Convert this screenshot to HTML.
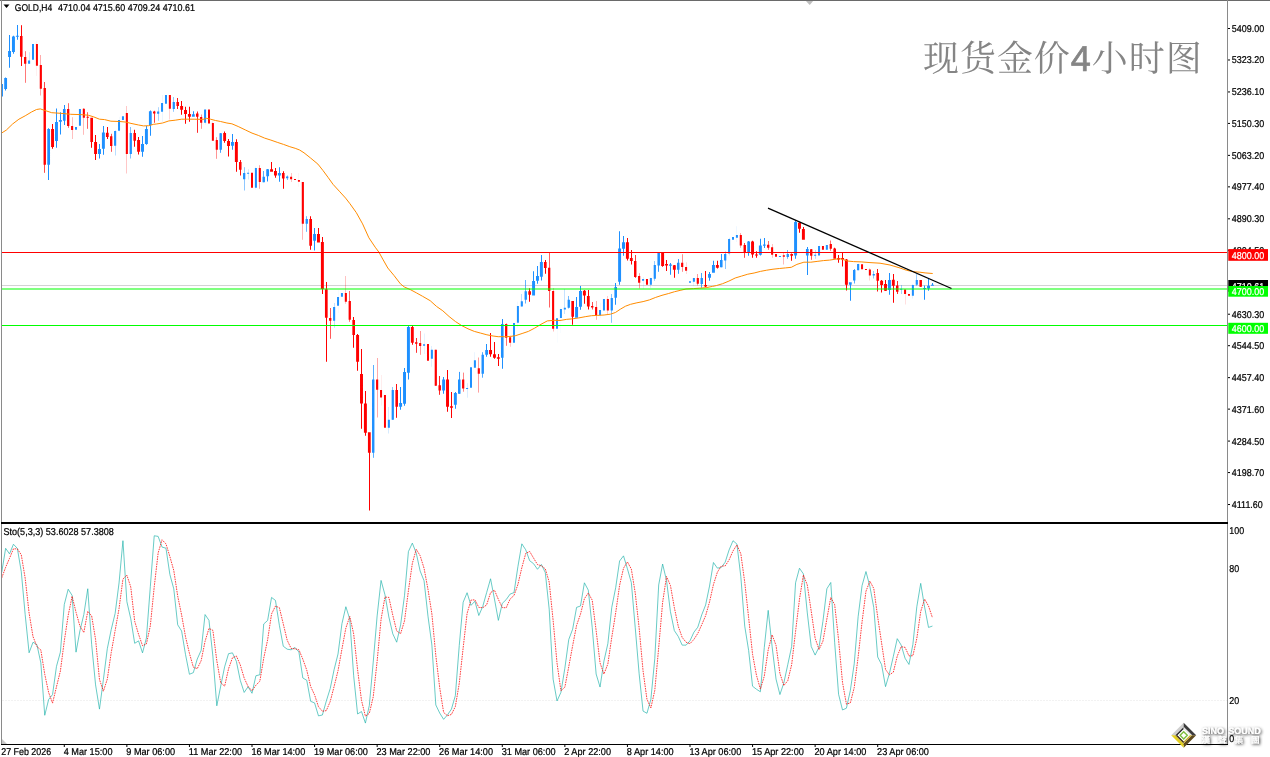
<!DOCTYPE html><html><head><meta charset="utf-8"><title>GOLD,H4</title><style>
html,body{margin:0;padding:0;background:#fff;width:1270px;height:757px;overflow:hidden}
svg{display:block}
text{text-rendering:geometricPrecision;font-family:"Liberation Sans",Arial,sans-serif;font-size:9.9px;fill:#000;stroke:#000;stroke-width:0.22px}
.cn{font-family:"Liberation Serif","Noto Serif CJK SC",serif;font-size:36px;fill:#858585;stroke:none}
</style></head><body>
<svg width="1270" height="757" viewBox="0 0 1270 757">
<rect x="0" y="0" width="1270" height="757" fill="#fff"/>
<defs><clipPath id="cm"><rect x="2" y="1" width="1225" height="521"/></clipPath><clipPath id="cs"><rect x="2" y="524" width="1225" height="220"/></clipPath></defs>
<text class="cn" x="923" y="70.8" style="letter-spacing:0.95px">现货金价<tspan style="font-family:'Liberation Sans',sans-serif;stroke:#858585;stroke-width:0.7px">4</tspan>小时图</text>
<g clip-path="url(#cm)">
<rect x="1" y="285" width="1226" height="1" fill="#D3D3D3"/>
<rect x="1" y="82" width="1" height="17.5" fill="#1E90FF" fill-opacity="0.79"/><rect x="21" y="25.2" width="1" height="40.8" fill="#FF0000" fill-opacity="0.96"/><rect x="25" y="51.2" width="1" height="31.6" fill="#FF0000" fill-opacity="0.53"/><rect x="29" y="52.2" width="1" height="11.5" fill="#1E90FF" fill-opacity="0.2"/><rect x="36" y="41.2" width="1" height="34.8" fill="#FF0000" fill-opacity="0.06"/><rect x="40" y="55" width="1" height="40.5" fill="#FF0000" fill-opacity="0.33"/><rect x="44" y="82" width="1" height="90.8" fill="#FF0000" fill-opacity="0.71"/><rect x="68" y="103.2" width="1" height="24.6" fill="#FF0000" fill-opacity="0.6"/><rect x="72" y="117.2" width="1" height="21.8" fill="#FF0000" fill-opacity="0.25"/><rect x="76" y="127" width="1" height="2.8" fill="#1E90FF" fill-opacity="0.02"/><rect x="79" y="108.2" width="1" height="17.6" fill="#1E90FF" fill-opacity="0.03"/><rect x="83" y="108" width="1" height="26.8" fill="#FF0000" fill-opacity="0.27"/><rect x="87" y="112.2" width="1" height="16.6" fill="#FF0000" fill-opacity="0.63"/><rect x="111" y="133.8" width="1" height="18" fill="#FF0000" fill-opacity="0.68"/><rect x="115" y="130.5" width="1" height="25" fill="#1E90FF" fill-opacity="0.31"/><rect x="119" y="116.8" width="1" height="15" fill="#1E90FF" fill-opacity="0.05"/><rect x="126" y="106" width="1" height="67.5" fill="#FF0000" fill-opacity="0.22"/><rect x="130" y="127" width="1" height="31.5" fill="#1E90FF" fill-opacity="0.56"/><rect x="154" y="110.8" width="1" height="12" fill="#FF0000" fill-opacity="0.76"/><rect x="158" y="107.2" width="1" height="13.6" fill="#1E90FF" fill-opacity="0.37"/><rect x="162" y="95" width="1" height="27" fill="#1E90FF" fill-opacity="0.09"/><rect x="169" y="95" width="1" height="24.5" fill="#FF0000" fill-opacity="0.16"/><rect x="173" y="97" width="1" height="14.8" fill="#1E90FF" fill-opacity="0.49"/><rect x="177" y="98" width="1" height="11" fill="#FF0000" fill-opacity="0.91"/><rect x="197" y="111.5" width="1" height="21.3" fill="#FF0000" fill-opacity="0.84"/><rect x="201" y="114.5" width="1" height="14.3" fill="#FF0000" fill-opacity="0.43"/><rect x="205" y="109.2" width="1" height="15.3" fill="#1E90FF" fill-opacity="0.13"/><rect x="212" y="121.5" width="1" height="19.3" fill="#FF0000" fill-opacity="0.12"/><rect x="216" y="137.2" width="1" height="21.6" fill="#FF0000" fill-opacity="0.42"/><rect x="220" y="133" width="1" height="19.8" fill="#1E90FF" fill-opacity="0.83"/><rect x="240" y="160" width="1" height="15.5" fill="#FF0000" fill-opacity="0.93"/><rect x="244" y="167.2" width="1" height="23.3" fill="#1E90FF" fill-opacity="0.5"/><rect x="248" y="169.2" width="1" height="10.3" fill="#1E90FF" fill-opacity="0.18"/><rect x="255" y="166.5" width="1" height="23" fill="#1E90FF" fill-opacity="0.08"/><rect x="259" y="165.2" width="1" height="23.6" fill="#FF0000" fill-opacity="0.36"/><rect x="263" y="171" width="1" height="11.2" fill="#1E90FF" fill-opacity="0.74"/><rect x="287" y="175.5" width="1" height="4.5" fill="#1E90FF" fill-opacity="0.58"/><rect x="291" y="173" width="1" height="9" fill="#FF0000" fill-opacity="0.23"/><rect x="298" y="173" width="1" height="13.8" fill="#FF0000" fill-opacity="0.04"/><rect x="302" y="182" width="1" height="57.8" fill="#FF0000" fill-opacity="0.29"/><rect x="306" y="216.2" width="1" height="15.6" fill="#1E90FF" fill-opacity="0.66"/><rect x="330" y="308" width="1" height="30.8" fill="#FF0000" fill-opacity="0.65"/><rect x="334" y="303" width="1" height="24.8" fill="#1E90FF" fill-opacity="0.28"/><rect x="338" y="290" width="1" height="23" fill="#1E90FF" fill-opacity="0.04"/><rect x="345" y="276" width="1" height="27.8" fill="#FF0000" fill-opacity="0.24"/><rect x="349" y="291" width="1" height="30.8" fill="#FF0000" fill-opacity="0.59"/><rect x="373" y="365" width="1" height="92.8" fill="#1E90FF" fill-opacity="0.73"/><rect x="377" y="358" width="1" height="59.5" fill="#FF0000" fill-opacity="0.34"/><rect x="381" y="375" width="1" height="30.5" fill="#FF0000" fill-opacity="0.07"/><rect x="388" y="407" width="1" height="26.5" fill="#1E90FF" fill-opacity="0.18"/><rect x="392" y="387" width="1" height="32.8" fill="#1E90FF" fill-opacity="0.52"/><rect x="396" y="384" width="1" height="33.8" fill="#FF0000" fill-opacity="0.94"/><rect x="416" y="338" width="1" height="14.8" fill="#FF0000" fill-opacity="0.81"/><rect x="420" y="331" width="1" height="23.8" fill="#FF0000" fill-opacity="0.41"/><rect x="424" y="333.5" width="1" height="20.5" fill="#1E90FF" fill-opacity="0.11"/><rect x="431" y="346" width="1" height="20.8" fill="#1E90FF" fill-opacity="0.14"/><rect x="435" y="349.8" width="1" height="36" fill="#FF0000" fill-opacity="0.45"/><rect x="439" y="376" width="1" height="18.8" fill="#FF0000" fill-opacity="0.86"/><rect x="459" y="371.9" width="1" height="21.8" fill="#1E90FF" fill-opacity="0.9"/><rect x="463" y="372.6" width="1" height="19.1" fill="#FF0000" fill-opacity="0.48"/><rect x="467" y="383.2" width="1" height="14.5" fill="#1E90FF" fill-opacity="0.16"/><rect x="474" y="352.2" width="1" height="15.6" fill="#1E90FF" fill-opacity="0.09"/><rect x="478" y="357.5" width="1" height="35.1" fill="#FF0000" fill-opacity="0.38"/><rect x="482" y="352.2" width="1" height="25.5" fill="#1E90FF" fill-opacity="0.77"/><rect x="506" y="323.5" width="1" height="22.3" fill="#FF0000" fill-opacity="0.55"/><rect x="510" y="335.5" width="1" height="11.3" fill="#FF0000" fill-opacity="0.21"/><rect x="517" y="301.5" width="1" height="26.3" fill="#1E90FF" fill-opacity="0.06"/><rect x="521" y="294" width="1" height="12.5" fill="#1E90FF" fill-opacity="0.32"/><rect x="525" y="280" width="1" height="23.5" fill="#1E90FF" fill-opacity="0.69"/><rect x="549" y="253" width="1" height="54.5" fill="#FF0000" fill-opacity="0.62"/><rect x="553" y="288" width="1" height="43.5" fill="#FF0000" fill-opacity="0.26"/><rect x="557" y="318" width="1" height="24.5" fill="#1E90FF" fill-opacity="0.03"/><rect x="560" y="307" width="1" height="26" fill="#1E90FF" fill-opacity="0.03"/><rect x="564" y="289" width="1" height="25" fill="#1E90FF" fill-opacity="0.26"/><rect x="568" y="296" width="1" height="12.5" fill="#1E90FF" fill-opacity="0.62"/><rect x="592" y="302" width="1" height="7.5" fill="#FF0000" fill-opacity="0.7"/><rect x="596" y="301" width="1" height="18.8" fill="#FF0000" fill-opacity="0.32"/><rect x="600" y="303" width="1" height="15" fill="#1E90FF" fill-opacity="0.06"/><rect x="607" y="296" width="1" height="18" fill="#FF0000" fill-opacity="0.2"/><rect x="611" y="294" width="1" height="28.8" fill="#1E90FF" fill-opacity="0.54"/><rect x="635" y="255" width="1" height="22.8" fill="#FF0000" fill-opacity="0.78"/><rect x="639" y="273.2" width="1" height="15.3" fill="#FF0000" fill-opacity="0.38"/><rect x="643" y="277" width="1" height="12" fill="#1E90FF" fill-opacity="0.1"/><rect x="650" y="277.8" width="1" height="10" fill="#1E90FF" fill-opacity="0.15"/><rect x="654" y="261" width="1" height="19.8" fill="#1E90FF" fill-opacity="0.47"/><rect x="658" y="252.8" width="1" height="19" fill="#1E90FF" fill-opacity="0.89"/><rect x="678" y="259" width="1" height="14.8" fill="#1E90FF" fill-opacity="0.86"/><rect x="682" y="254.2" width="1" height="17.6" fill="#FF0000" fill-opacity="0.45"/><rect x="686" y="262.2" width="1" height="11.8" fill="#FF0000" fill-opacity="0.14"/><rect x="693" y="277.8" width="1" height="8.4" fill="#1E90FF" fill-opacity="0.11"/><rect x="697" y="274" width="1" height="11.5" fill="#FF0000" fill-opacity="0.4"/><rect x="701" y="273" width="1" height="14.8" fill="#1E90FF" fill-opacity="0.81"/><rect x="721" y="254" width="1" height="13.2" fill="#1E90FF" fill-opacity="0.95"/><rect x="725" y="251.5" width="1" height="17.5" fill="#1E90FF" fill-opacity="0.52"/><rect x="729" y="237.8" width="1" height="17.7" fill="#1E90FF" fill-opacity="0.19"/><rect x="736" y="226.2" width="1" height="15.8" fill="#1E90FF" fill-opacity="0.07"/><rect x="740" y="233" width="1" height="14.8" fill="#FF0000" fill-opacity="0.34"/><rect x="744" y="243" width="1" height="14.8" fill="#FF0000" fill-opacity="0.73"/><rect x="768" y="241" width="1" height="8.8" fill="#FF0000" fill-opacity="0.59"/><rect x="772" y="244" width="1" height="13.8" fill="#FF0000" fill-opacity="0.24"/><rect x="779" y="256.2" width="1" height="0.8" fill="#1E90FF" fill-opacity="0.04"/><rect x="783" y="253" width="1" height="11.5" fill="#FF0000" fill-opacity="0.28"/><rect x="787" y="250" width="1" height="8.8" fill="#1E90FF" fill-opacity="0.65"/><rect x="811" y="249" width="1" height="10.8" fill="#FF0000" fill-opacity="0.67"/><rect x="815" y="250" width="1" height="8.8" fill="#1E90FF" fill-opacity="0.3"/><rect x="819" y="243.8" width="1" height="11.7" fill="#1E90FF" fill-opacity="0.04"/><rect x="826" y="245" width="1" height="4.8" fill="#1E90FF" fill-opacity="0.22"/><rect x="830" y="240.5" width="1" height="10.3" fill="#FF0000" fill-opacity="0.57"/><rect x="854" y="269" width="1" height="14.5" fill="#1E90FF" fill-opacity="0.75"/><rect x="858" y="263.8" width="1" height="6.4" fill="#1E90FF" fill-opacity="0.36"/><rect x="862" y="264.2" width="1" height="5" fill="#FF0000" fill-opacity="0.08"/><rect x="869" y="268" width="1" height="12.5" fill="#FF0000" fill-opacity="0.17"/><rect x="873" y="271" width="1" height="7.5" fill="#1E90FF" fill-opacity="0.5"/><rect x="877" y="269" width="1" height="22.5" fill="#FF0000" fill-opacity="0.92"/><rect x="897" y="281" width="1" height="13" fill="#FF0000" fill-opacity="0.83"/><rect x="901" y="285" width="1" height="9" fill="#1E90FF" fill-opacity="0.42"/><rect x="905" y="289.5" width="1" height="15" fill="#FF0000" fill-opacity="0.12"/><rect x="912" y="284" width="1" height="14.5" fill="#1E90FF" fill-opacity="0.13"/><rect x="916" y="274" width="1" height="12" fill="#1E90FF" fill-opacity="0.43"/><rect x="920" y="280" width="1" height="6.8" fill="#FF0000" fill-opacity="0.84"/>
<path d="M0.5 84h2.45v12.5h-2.45zM5 77.5h1v13h-1zM4.21 78h2.84v11h-2.84zM9 35h1v32.8h-1zM8.07 51h2.95v6h-2.95zM13 35.8h1v18h-1zM11.98 36.5h2.95v15.5h-2.95zM17 25h1v14.8h-1zM15.89 35.75h2.95v1h-2.95zM28.06 60.5h2.07v3.2h-2.07zM32 44h2v15.8h-2zM48 128.2h1v51.8h-1zM47.27 129h2.76v35.8h-2.76zM56 108.5h1v39.3h-1zM54.99 122h2.95v19h-2.95zM60 112.2h1v22.3h-1zM58.9 120h2.95v1.8h-2.95zM64 105h1v20h-1zM62.96 109h2.65v11.8h-2.65zM75.02 127h2v2.8h-2zM78.93 109h2.01v16.8h-2.01zM99 144h1v14.5h-1zM98.01 149h2.95v5h-2.95zM103 126h1v28.8h-1zM101.92 132.5h2.95v16.3h-2.95zM114.06 131h2.13v14.8h-2.13zM118.03 120h2.01v10.8h-2.01zM121.95 116.2h2v3.8h-2zM129.63 133h2.28v21h-2.28zM142 136h1v20.8h-1zM141.03 144h2.95v7.8h-2.95zM146 126h1v18.8h-1zM144.94 129h2.95v15h-2.95zM150 110.5h1v25.3h-1zM148.92 111.2h2.81v13.8h-2.81zM157.06 111.5h2.16v2.3h-2.16zM161.04 103h2.02v8.8h-2.02zM164.97 95h2v8.8h-2zM172.67 102h2.23v7h-2.23zM193 111.2h1v5.6h-1zM191.89 114.2h2.89v2.6h-2.89zM204.05 109.5h2.04v13.3h-2.04zM219.48 133.2h2.47v16.6h-2.47zM232 134h1v15.8h-1zM230.97 142h2.95v3.8h-2.95zM243.06 173h2.24v6.2h-2.24zM247.06 172.8h2.06v1h-2.06zM254.9 168h2.02v19.8h-2.02zM262.53 176.8h2.41v5.4h-2.41zM267 169h1v12.5h-1zM266.25 169.2h2.79v7h-2.79zM279 167.2h1v14.6h-1zM277.9 173h2.95v2.5h-2.95zM286.05 176.5h2.29v1.7h-2.29zM305.57 219h2.35v4.8h-2.35zM314 228h1v22.5h-1zM313.09 234h2.95v6.8h-2.95zM333.06 307h2.11v13.8h-2.11zM337.03 297h2.01v8.8h-2.01zM340.94 293h2v3.8h-2zM372.03 379.5h2.4v73.3h-2.4zM387.84 419.8h2.06v8h-2.06zM391.65 390h2.25v29.8h-2.25zM400 387h1v22.8h-1zM399.13 403h2.95v3.8h-2.95zM404 368h1v37.8h-1zM403.04 372h2.95v31.8h-2.95zM408 326h1v53.5h-1zM406.95 327h2.95v45.8h-2.95zM423.05 344.2h2.03v1.6h-2.03zM430.86 349.8h2.04v9h-2.04zM443 377h1v16.7h-1zM442.16 379.5h2.91v11.1h-2.91zM455 392h1v16.7h-1zM453.88 393h2.95v11.8h-2.95zM458 379.5h2.53v14.2h-2.53zM466.06 387.95h2.05v1h-2.05zM469.99 367.2h2v20.5h-2zM473.89 360.2h2.03v7.6h-2.03zM481.51 354.8h2.43v18.9h-2.43zM486 344h1v12.8h-1zM485.22 350h2.82v4.8h-2.82zM502 319h1v49.8h-1zM500.98 324h2.59v33.8h-2.59zM513.01 323h2v19.8h-2zM516.91 306h2.01v16.8h-2.01zM520.76 301.2h2.13v5.3h-2.13zM524.55 291.2h2.37v8.6h-2.37zM533 271.2h1v24.3h-1zM532.09 281h2.95v14.5h-2.95zM537 266h1v17.8h-1zM536 276h2.95v4.8h-2.95zM541 255h1v25.5h-1zM539.91 262h2.95v14.8h-2.95zM556.02 318.2h2v10.6h-2zM559.93 309h2v9h-2zM563.8 307.8h2.1v1.7h-2.1zM567.6 299.8h2.32v8h-2.32zM576 297h1v20.8h-1zM575.1 307h2.95v10.8h-2.95zM580 286h1v23.8h-1zM579.01 291h2.95v15.8h-2.95zM599.04 310h2.01v5.2h-2.01zM602.95 299h2v11.5h-2zM610.64 298h2.27v12.5h-2.27zM615 283h1v21.8h-1zM614.39 287h2.59v10.8h-2.59zM619 231.2h1v53.6h-1zM618.12 248.5h2.95v33.3h-2.95zM623 236h1v19.8h-1zM622.03 242.2h2.95v6.6h-2.95zM642.05 279h2.03v1.8h-2.03zM649.85 278h2.05v6.8h-2.05zM653.68 265h2.22v13.8h-2.22zM657.44 253h2.52v12.5h-2.52zM670 263h1v11.8h-1zM668.96 264.5h2.95v1.3h-2.95zM677 262.8h2.5v7h-2.5zM688.99 281.2h2v1.6h-2zM692.88 278h2.03v3.8h-2.03zM700.49 278h2.46v6h-2.46zM709 272h1v8.8h-1zM708.06 274h2.95v3.8h-2.95zM713 260.8h1v12h-1zM711.97 265h2.95v7.8h-2.95zM719.99 260h2.57v7.2h-2.57zM724.05 254h2.25v6.5h-2.25zM728.06 239h2.07v14.5h-2.07zM732 237h2v2.8h-2zM735.9 235h2.02v2.8h-2.02zM748 241h1v14.8h-1zM747.26 241.5h2.77v10.5h-2.77zM760 238.8h1v16.7h-1zM758.9 245.5h2.95v9.3h-2.95zM764 238h1v10h-1zM762.97 244.5h2.64v1.3h-2.64zM778.93 256.1h2.01v1h-2.01zM786.58 254h2.34v3h-2.34zM795 220.5h1v38.3h-1zM794.1 222h2.95v33.5h-2.95zM807 247h1v28h-1zM805.95 249h2.71v6.5h-2.71zM814.06 254.8h2.12v1h-2.12zM818.03 246h2.01v9.5h-2.01zM825.82 245h2.08v4.8h-2.08zM850 282.2h1v18.6h-1zM848.92 282.2h2.8v2.6h-2.8zM853.02 270h2.41v10.5h-2.41zM857.06 264h2.16v6.2h-2.16zM872.66 274h2.24v1.5h-2.24zM889 273h1v21.8h-1zM887.95 280h2.95v10h-2.95zM900.06 288.65h2.19v1h-2.19zM911.87 285h2.04v10.8h-2.04zM915.7 280h2.2v4.8h-2.2zM924 285.5h1v14.3h-1zM923.18 288h2.89v1h-2.89zM928 279h1v11.8h-1zM927.06 285.8h2.95v2.7h-2.95zM932 283h1v2.5h-1zM930.97 284.75h2.95v1h-2.95z" fill="#1E90FF"/>
<path d="M19.98 36h2.58v20.8h-2.58zM24.05 57h2.26v6.7h-2.26zM35.91 44h2.02v21.7h-2.02zM39.76 65h2.14v23.8h-2.14zM43.54 88h2.39v76.8h-2.39zM52 124h1v24.8h-1zM51.08 129h2.95v18h-2.95zM67.04 109h2.31v17h-2.31zM71.06 126h2.1v4h-2.1zM82.79 108.8h2.11v9h-2.11zM86.59 116.8h2.33v1h-2.33zM91 117.8h1v30h-1zM90.32 117.8h2.68v24.2h-2.68zM95 135h1v25h-1zM94.1 142h2.95v12h-2.95zM107 127h1v12h-1zM105.94 132.8h2.73v4.2h-2.73zM110.03 136.2h2.36v9.8h-2.36zM125.82 113h2.08v41h-2.08zM134 129.8h1v17h-1zM133.38 133h2.61v7.8h-2.61zM138 137h1v17.5h-1zM137.12 140h2.95v11.8h-2.95zM153.02 111.5h2.42v2h-2.42zM168.85 95h2.05v13.8h-2.05zM176.43 102h2.54v4h-2.54zM181 101h1v13.8h-1zM180.13 106h2.95v3.8h-2.95zM185 106.8h1v17h-1zM184.04 110h2.95v4h-2.95zM189 106.8h1v15h-1zM187.95 114h2.95v2.8h-2.95zM196.01 113.5h2.48v3.3h-2.48zM200.06 117h2.2v5.8h-2.2zM207.98 109.5h2v14h-2zM211.87 123h2.04v17.8h-2.04zM215.71 140h2.19v9.8h-2.19zM224 131.5h1v11.3h-1zM223.19 133h2.87v8h-2.87zM228 139h1v17.5h-1zM227.06 141h2.95v5h-2.95zM236 139.2h1v32.6h-1zM234.88 142h2.95v20h-2.95zM238.99 162h2.55v7.8h-2.55zM251 172.8h2v15h-2zM258.74 168h2.15v14h-2.15zM271 162h1v9.8h-1zM270.08 169.2h2.95v2.6h-2.95zM275 168h1v9.8h-1zM273.99 171h2.95v4.5h-2.95zM283 171.2h1v17.6h-1zM281.97 173h2.62v5.5h-2.62zM290.06 176.8h2.08v2.4h-2.08zM294.01 179h2v1h-2zM297.92 180h2.01v1.8h-2.01zM301.78 182h2.12v41.8h-2.12zM310 216.2h1v33.6h-1zM309.3 219h2.71v26.8h-2.71zM318 228h1v14.5h-1zM317 234h2.95v8.5h-2.95zM322 237h1v57h-1zM320.91 242h2.95v47h-2.95zM326 282h1v79.8h-1zM324.95 289.2h2.7v28.6h-2.7zM329.04 318h2.34v2.8h-2.34zM344.81 293h2.09v8.8h-2.09zM348.61 301h2.3v18.8h-2.3zM353 317h1v30.8h-1zM352.36 320h2.63v15h-2.63zM357 334h1v36.8h-1zM356.11 335h2.95v26.8h-2.95zM361 349h1v79.8h-1zM360.02 374h2.95v29.5h-2.95zM365 391h1v44.8h-1zM363.93 403.5h2.95v29.3h-2.95zM369 432.2h1v78.3h-1zM367.93 432.2h2.78v20.6h-2.78zM376.06 379.5h2.15v10.3h-2.15zM380.04 390h2.02v7.5h-2.02zM383.96 395h2v32.8h-2zM395.41 390h2.56v16.8h-2.56zM412 326h1v18.8h-1zM410.9 327h2.86v15.8h-2.86zM415.01 342.2h2.46v1.6h-2.46zM419.06 343h2.18v3h-2.18zM426.98 344h2v16.8h-2zM434.69 349.8h2.21v36h-2.21zM438.46 385.2h2.5v5.4h-2.5zM447 370h1v41.8h-1zM446.05 379.5h2.95v27.3h-2.95zM451 392h1v25.9h-1zM449.96 406.2h2.95v1.6h-2.95zM462.06 379.5h2.23v9.1h-2.23zM477.73 368.3h2.17v5.4h-2.17zM490 333h1v23.8h-1zM489.07 350h2.95v4.2h-2.95zM494 342h1v16.8h-1zM492.98 354.2h2.95v3.6h-2.95zM498 354h1v12h-1zM496.89 357.2h2.95v1.6h-2.95zM505.05 324h2.27v13.8h-2.27zM509.06 337.2h2.07v5.6h-2.07zM529 288.2h1v13.6h-1zM528.28 291.2h2.74v3.6h-2.74zM545 260h1v13.8h-1zM543.96 262h2.67v6h-2.67zM548.04 267.8h2.32v23.2h-2.32zM552.06 291h2.1v37.8h-2.1zM572 301h1v23.8h-1zM571.34 301h2.66v15.8h-2.66zM584 290h1v13.8h-1zM582.92 290.8h2.95v4.7h-2.95zM588 290h1v19.5h-1zM586.94 296h2.75v10.5h-2.75zM591.03 306h2.38v1.5h-2.38zM595.06 307h2.13v8.2h-2.13zM606.83 299h2.07v11.5h-2.07zM627 238h1v22.5h-1zM625.94 242.2h2.95v16.6h-2.95zM631 250h1v14.5h-1zM629.91 258h2.83v3h-2.83zM634.02 261h2.44v16h-2.44zM638.06 276h2.17v6.8h-2.17zM645.97 279h2v5.8h-2zM662 252h1v14.8h-1zM661.14 253h2.94v13h-2.94zM666 260h1v11h-1zM665.05 264h2.95v1.5h-2.95zM674 265h1v12.8h-1zM672.89 265.2h2.91v4.6h-2.91zM681.06 262.8h2.21v4.2h-2.21zM685.05 267h2.04v3.8h-2.04zM696.72 278h2.18v5.8h-2.18zM705 271h1v16h-1zM704.2 285h2.85v1.5h-2.85zM717 260.8h1v7.7h-1zM715.88 265h2.95v2.8h-2.95zM739.75 235h2.14v10.5h-2.14zM743.54 245h2.4v7.5h-2.4zM752 240.8h1v17h-1zM751.08 241.5h2.95v13h-2.95zM756 251.2h1v6.6h-1zM754.99 254.5h2.95v1h-2.95zM767.05 244.8h2.3v3h-2.3zM771.06 247.2h2.09v7.6h-2.09zM775.02 254h2v2.8h-2zM782.78 255.2h2.11v1.6h-2.11zM791 253.5h1v7.3h-1zM790.32 254h2.69v1.8h-2.69zM799 222.2h1v10.6h-1zM798.01 222.8h2.95v6h-2.95zM803 227h1v12.8h-1zM801.92 229h2.95v10.8h-2.95zM810.04 249.2h2.36v6.6h-2.36zM821.95 246h2v3.8h-2zM829.62 244h2.29v4.8h-2.29zM834 247.8h1v11h-1zM833.37 248.5h2.62v10.3h-2.62zM838 255h1v7.8h-1zM837.11 258h2.95v1.5h-2.95zM842 252.8h1v13.7h-1zM841.02 258h2.95v1.5h-2.95zM846 259h1v31.5h-1zM844.93 259.5h2.95v25.3h-2.95zM861.04 264.2h2.02v5h-2.02zM864.96 268.9h2v1h-2zM868.84 269.5h2.06v6h-2.06zM876.42 273h2.55v7.8h-2.55zM881 280h1v12.5h-1zM880.13 280.8h2.95v4.2h-2.95zM885 280h1v11h-1zM884.04 284h2.95v6.8h-2.95zM893 274h1v28.8h-1zM891.9 279.8h2.88v6h-2.88zM896.01 285.5h2.47v6.3h-2.47zM904.05 289.5h2.04v4.5h-2.04zM907.98 294h2v1.8h-2zM919.47 280h2.48v6.8h-2.48z" fill="#FF0000"/>
<polyline points="1.5,133.1 6.3,130.1 12.6,124 18.9,119.2 25.2,115.8 31.5,112 36.5,109.5 40.3,108.9 44.1,110.2 51.7,112.7 60.5,113.3 70.6,114.3 80.6,114.6 88.2,115.2 93.2,116.7 99.5,119.2 104.6,119.6 110.9,121.2 119.7,121.5 126,122.1 131,123.4 138.6,125 143.6,125.9 148.7,125.7 153.7,124.3 156.3,124 162.6,123 168.9,120.9 175.2,120.2 181.5,119.2 187.8,119.2 194.1,119.2 202.9,119.4 206.7,118.3 210.5,119.2 215.5,120.5 220.6,121.5 226.9,123 231.9,123.8 238.2,126.5 245.7,130.1 252,133.1 258.3,135.4 264.6,138.1 270.9,140.1 277.2,142.3 283.5,144.4 289.8,146.7 295.2,148.3 299.6,150 304,152.8 310.3,157.8 317.9,164.1 322.9,170.4 328,177.3 333,184.3 339.3,191.2 345.6,198.1 350,203.8 356.3,212.6 362.6,223.9 368.9,237.8 375.2,247.2 379,252.3 382.8,259.2 387.8,268 394.1,275.6 400.4,283.8 404.2,286.9 410.5,289.7 416.3,292.8 422.6,296.3 430.2,300.7 436.5,306.4 442.8,310.8 449.1,316.5 455.4,321.5 461.7,325.6 468,328.8 474.3,331.4 480.6,333.1 486.9,334.8 493.1,336 498.2,336.7 504.5,336.7 510.8,336.4 515.8,335.6 522.1,333.5 528.4,331.4 534.7,328.1 541,324.3 547.3,320.9 554.9,320.3 560,320.5 566.3,319.4 572.6,318.8 578.9,317.9 585.2,316.7 591.5,315.7 597.8,315.4 604.1,315 610.4,314.2 615.4,312.5 620.5,309.1 625.5,306.2 630.6,304.3 636.9,302.8 643.1,301.6 649.4,299.9 655.7,297.4 662,295.3 668.3,293.6 674.6,291.7 680.9,290.2 686,289 693.5,288.6 699.8,288.2 706.1,287.7 712.4,286.4 716.3,285.6 722.6,283.7 728.9,281.1 735.2,278 741.5,276.1 747.8,274.2 754.1,273 760.4,271.4 766.7,270.2 773,269.2 779.3,268.5 785.6,267.9 791.3,267.3 796.9,264.4 803.9,262.2 810.8,262.2 817.1,261.4 823.4,260.6 829.7,260.1 836,259.1 841,258.8 847.3,261 853.6,261.6 861.2,261.9 870,262.6 880,263.2 890,265 900,268 906.6,270.3 913.2,271.7 919.8,272.2 925.1,272.9 932.7,273.5" fill="none" stroke="#FF8C00" stroke-width="1" stroke-linejoin="round"/>
<rect x="1" y="252" width="1226" height="1" fill="#FF0000"/>
<rect x="1" y="288" width="1226" height="2" fill="#00FF00" fill-opacity="0.5"/>
<rect x="1" y="325" width="1226" height="1" fill="#00FF00"/>
<line x1="768" y1="208.2" x2="951.5" y2="288.5" stroke="#000" stroke-width="1.3"/>
</g>
<polygon points="805,0 814,0 809.7,5" fill="#BEBEBE"/>
<rect x="0" y="0" width="1270" height="1" fill="#6A6A6A"/>
<rect x="1" y="0" width="1" height="745" fill="#8A8A8A"/>
<rect x="1227" y="0" width="1" height="745" fill="#8A8A8A"/>
<rect x="1" y="522" width="1227" height="2" fill="#000"/>
<rect x="1" y="744" width="1227" height="1" fill="#000"/>
<polygon points="2,739 2,744 7,744" fill="#C8C8C8"/>
<polygon points="3.5,4.5 9.5,4.5 6.5,8" fill="#000"/>
<text x="14.8" y="11.4" textLength="37.32" lengthAdjust="spacingAndGlyphs">GOLD,H4</text>
<text x="58" y="11.4" textLength="137.02" lengthAdjust="spacingAndGlyphs">4710.04 4715.60 4709.24 4710.61</text>
<rect x="1228" y="28" width="2" height="1" fill="#000"/>
<text x="1231.8" y="32" textLength="32.35" lengthAdjust="spacingAndGlyphs">5409.00</text>
<rect x="1228" y="59.48" width="2" height="1" fill="#000"/>
<text x="1231.8" y="63.48" textLength="32.35" lengthAdjust="spacingAndGlyphs">5323.20</text>
<rect x="1228" y="91.44" width="2" height="1" fill="#000"/>
<text x="1231.8" y="95.44" textLength="32.35" lengthAdjust="spacingAndGlyphs">5236.10</text>
<rect x="1228" y="122.92" width="2" height="1" fill="#000"/>
<text x="1231.8" y="126.92" textLength="32.35" lengthAdjust="spacingAndGlyphs">5150.30</text>
<rect x="1228" y="154.87" width="2" height="1" fill="#000"/>
<text x="1231.8" y="158.87" textLength="32.35" lengthAdjust="spacingAndGlyphs">5063.20</text>
<rect x="1228" y="186.35" width="2" height="1" fill="#000"/>
<text x="1231.8" y="190.35" textLength="32.35" lengthAdjust="spacingAndGlyphs">4977.40</text>
<rect x="1228" y="218.31" width="2" height="1" fill="#000"/>
<text x="1231.8" y="222.31" textLength="32.35" lengthAdjust="spacingAndGlyphs">4890.30</text>
<rect x="1228" y="249.79" width="2" height="1" fill="#000"/>
<text x="1231.8" y="253.79" textLength="32.35" lengthAdjust="spacingAndGlyphs">4804.50</text>
<rect x="1228" y="313.71" width="2" height="1" fill="#000"/>
<text x="1231.8" y="317.71" textLength="32.35" lengthAdjust="spacingAndGlyphs">4630.30</text>
<rect x="1228" y="345.19" width="2" height="1" fill="#000"/>
<text x="1231.8" y="349.19" textLength="32.35" lengthAdjust="spacingAndGlyphs">4544.50</text>
<rect x="1228" y="377.14" width="2" height="1" fill="#000"/>
<text x="1231.8" y="381.14" textLength="32.35" lengthAdjust="spacingAndGlyphs">4457.40</text>
<rect x="1228" y="408.62" width="2" height="1" fill="#000"/>
<text x="1231.8" y="412.62" textLength="32.35" lengthAdjust="spacingAndGlyphs">4371.60</text>
<rect x="1228" y="440.58" width="2" height="1" fill="#000"/>
<text x="1231.8" y="444.58" textLength="32.35" lengthAdjust="spacingAndGlyphs">4284.50</text>
<rect x="1228" y="472.06" width="2" height="1" fill="#000"/>
<text x="1231.8" y="476.06" textLength="32.35" lengthAdjust="spacingAndGlyphs">4198.70</text>
<rect x="1228" y="504.02" width="2" height="1" fill="#000"/>
<text x="1231.8" y="508.02" textLength="31.02" lengthAdjust="spacingAndGlyphs">4111.60</text>
<rect x="1228.3" y="249.1" width="39.7" height="11.7" fill="#FF0000"/>
<text x="1231.8" y="258.7" textLength="32.35" lengthAdjust="spacingAndGlyphs" style="fill:#fff;stroke:#fff">4800.00</text>
<rect x="1228.3" y="280" width="39.7" height="11.8" fill="#000"/>
<text x="1231.8" y="289.7" textLength="32.35" lengthAdjust="spacingAndGlyphs" style="fill:#fff;stroke:#fff">4710.61</text>
<rect x="1228.3" y="286" width="39.7" height="10.7" fill="#00FF00"/>
<text x="1231.8" y="294.6" textLength="32.35" lengthAdjust="spacingAndGlyphs" style="fill:#fff;stroke:#fff">4700.00</text>
<rect x="1228.3" y="322.8" width="39.7" height="11" fill="#00FF00"/>
<text x="1231.8" y="331.7" textLength="32.35" lengthAdjust="spacingAndGlyphs" style="fill:#fff;stroke:#fff">4600.00</text>
<line x1="2" y1="700.5" x2="1227" y2="700.5" stroke="#F2F2F2" stroke-width="1" stroke-dasharray="2,1"/>
<g clip-path="url(#cs)">
<polyline points="1.72,572.51 5.63,548.31 9.54,553.92 13.45,544.24 17.36,548.42 21.27,571.66 25.18,614.65 29.09,652.77 33,642.25 36.92,644.67 40.83,662.85 44.74,715.27 48.65,699.49 52.56,694.54 56.47,666.4 60.38,652.18 64.29,604.47 68.2,589.22 72.11,595.38 76.02,652.16 79.93,630.78 83.84,614.54 87.75,588.76 91.66,644.53 95.57,684.88 99.48,709.12 103.4,679.51 107.31,648.72 111.22,629.56 115.13,613.46 119.04,582.97 122.95,540.69 126.86,601.61 130.77,618.81 134.68,643.29 138.59,640.9 142.5,652.85 146.41,638.01 150.32,586.71 154.23,535.78 158.14,536.38 162.05,547.1 165.97,548.19 169.88,574.53 173.79,588.9 177.7,624.82 181.61,631.03 185.52,654.54 189.43,674.26 193.34,672.65 197.25,659.02 201.16,650.32 205.07,614.57 208.98,620.36 212.89,656.11 216.8,705.8 220.71,686.07 224.62,666.84 228.53,653.69 232.45,652.85 236.36,661.37 240.27,680.33 244.18,692.44 248.09,686.69 252,693.25 255.91,675.76 259.82,674.77 263.73,623.98 267.64,620.45 271.55,597.43 275.46,600.41 279.37,625.29 283.28,646.22 287.19,649.2 291.1,649.8 295.02,647.51 298.93,652.09 302.84,678 306.75,680.27 310.66,701.34 314.57,702.91 318.48,715.86 322.39,715 326.3,701.04 330.21,688.57 334.12,669.57 338.03,653.96 341.94,623.65 345.85,606.72 349.76,619.07 353.67,675.78 357.58,713.98 361.5,711.56 365.41,723.09 369.32,705.47 373.23,662.08 377.14,615.93 381.05,580.42 384.96,594.79 388.87,616.99 392.78,633.8 396.69,642.19 400.6,624.89 404.51,595.62 408.42,551.59 412.33,543.1 416.24,553.07 420.15,571.03 424.06,580.75 427.98,616.14 431.89,645.04 435.8,704.94 439.71,713.05 443.62,719.33 447.53,714.85 451.44,709.11 455.35,695.6 459.26,645.48 463.17,602.23 467.08,592.73 470.99,605.4 474.9,601.22 478.81,615.52 482.72,606.5 486.63,592.64 490.55,578.78 494.46,599.02 498.37,620.38 502.28,603.38 506.19,599.62 510.1,594.09 514.01,592.62 517.92,566.58 521.83,543.84 525.74,549.8 529.65,560.7 533.56,563.66 537.47,569.28 541.38,564.49 545.29,572.6 549.2,609.18 553.11,679.15 557.03,700.99 560.94,692.31 564.85,668.21 568.76,639.51 572.67,629.15 576.58,607.37 580.49,606 584.4,582.8 588.31,590.15 592.22,627.56 596.13,674.04 600.04,687.04 603.95,661.09 607.86,643.57 611.77,607.37 615.68,587.72 619.59,561.03 623.51,555.87 627.42,568.75 631.33,582.6 635.24,627.77 639.15,673.85 643.06,711.09 646.97,713.28 650.88,699.29 654.79,658.61 658.7,584.94 662.61,564.04 666.52,580.53 670.43,611.65 674.34,630.59 678.25,636.46 682.16,645.12 686.08,645.15 689.99,640.82 693.9,632.24 697.81,627.18 701.72,614.86 705.63,604.96 709.54,586.04 713.45,562.5 717.36,568.12 721.27,567.49 725.18,562.19 729.09,549.96 733,540.72 736.91,544.04 740.82,576.57 744.73,626.12 748.64,650.4 752.56,686.22 756.47,689.25 760.38,691.77 764.29,647.49 768.2,610.35 772.11,646.59 776.02,679.09 779.93,694.55 783.84,682.91 787.75,664.7 791.66,646.5 795.57,582.74 799.48,568.22 803.39,573.9 807.3,612.92 811.21,646.45 815.12,655.08 819.04,647.1 822.95,621.21 826.86,588.79 830.77,582.47 834.68,642.78 838.59,694.32 842.5,709.98 846.41,708.19 850.32,690.62 854.23,663.72 858.14,616.72 862.05,585.63 865.96,571.54 869.87,586.31 873.78,607.62 877.69,656.97 881.61,664.67 885.52,686.62 889.43,673.41 893.34,656.37 897.25,638.68 901.16,645.07 905.07,658.27 908.98,664.44 912.89,644.42 916.8,606.79 920.71,583.36 924.62,607.13 928.53,627.43 932.44,626.07" fill="none" stroke="#20B2AA" stroke-width="0.85" stroke-opacity="0.8"/>
<polyline points="1.72,577.9 5.63,567.34 9.54,558.25 13.45,548.82 17.36,548.86 21.27,554.77 25.18,578.24 29.09,613.02 33,636.55 36.92,646.56 40.83,649.92 44.74,674.26 48.65,692.53 52.56,703.1 56.47,686.81 60.38,671.04 64.29,641.02 68.2,615.29 72.11,596.35 76.02,612.25 79.93,626.11 83.84,632.49 87.75,611.36 91.66,615.94 95.57,639.39 99.48,679.51 103.4,691.17 107.31,679.11 111.22,652.6 115.13,630.58 119.04,608.67 122.95,579.04 126.86,575.09 130.77,587.04 134.68,621.24 138.59,634.33 142.5,645.68 146.41,643.92 150.32,625.85 154.23,586.83 158.14,552.96 162.05,539.75 165.97,543.89 169.88,556.61 173.79,570.54 177.7,596.08 181.61,614.92 185.52,636.8 189.43,653.28 193.34,667.15 197.25,668.65 201.16,660.66 205.07,641.3 208.98,628.42 212.89,630.35 216.8,660.76 220.71,682.66 224.62,686.24 228.53,668.86 232.45,657.79 236.36,655.97 240.27,664.85 244.18,678.04 248.09,686.48 252,690.79 255.91,685.23 259.82,681.26 263.73,658.17 267.64,639.73 271.55,613.95 275.46,606.1 279.37,607.71 283.28,623.97 287.19,640.24 291.1,648.41 295.02,648.84 298.93,649.8 302.84,659.2 306.75,670.12 310.66,686.54 314.57,694.84 318.48,706.7 322.39,711.25 326.3,710.63 330.21,701.54 334.12,686.39 338.03,670.7 341.94,649.06 345.85,628.11 349.76,616.48 353.67,633.86 357.58,669.61 361.5,700.44 365.41,716.21 369.32,713.37 373.23,696.88 377.14,661.16 381.05,619.48 384.96,597.05 388.87,597.4 392.78,615.19 396.69,630.99 400.6,633.63 404.51,620.9 408.42,590.7 412.33,563.44 416.24,549.25 420.15,555.73 424.06,568.28 427.98,589.31 431.89,613.98 435.8,655.37 439.71,687.68 443.62,712.44 447.53,715.74 451.44,714.43 455.35,706.52 459.26,683.39 463.17,647.77 467.08,613.48 470.99,600.12 474.9,599.78 478.81,607.38 482.72,607.75 486.63,604.89 490.55,592.64 494.46,590.15 498.37,599.39 502.28,607.59 506.19,607.79 510.1,599.03 514.01,595.45 517.92,584.43 521.83,567.68 525.74,553.4 529.65,551.45 533.56,558.05 537.47,564.55 541.38,565.81 545.29,568.79 549.2,582.09 553.11,620.31 557.03,663.11 560.94,690.82 564.85,687.17 568.76,666.68 572.67,645.62 576.58,625.34 580.49,614.17 584.4,598.72 588.31,592.98 592.22,600.17 596.13,630.58 600.04,662.88 603.95,674.06 607.86,663.9 611.77,637.34 615.68,612.89 619.59,585.37 623.51,568.2 627.42,561.88 631.33,569.07 635.24,593.04 639.15,628.07 643.06,670.9 646.97,699.41 650.88,707.89 654.79,690.39 658.7,647.61 662.61,602.53 666.52,576.5 670.43,585.41 674.34,607.59 678.25,626.24 682.16,637.39 686.08,642.24 689.99,643.7 693.9,639.4 697.81,633.41 701.72,624.76 705.63,615.67 709.54,601.95 713.45,584.5 717.36,572.22 721.27,566.04 725.18,565.93 729.09,559.88 733,550.96 736.91,544.91 740.82,553.77 744.73,582.24 748.64,617.69 752.56,654.24 756.47,675.29 760.38,689.08 764.29,676.17 768.2,649.87 772.11,634.81 776.02,645.34 779.93,673.41 783.84,685.52 787.75,680.72 791.66,664.7 795.57,631.31 799.48,599.15 803.39,574.95 807.3,585.01 811.21,611.09 815.12,638.15 819.04,649.54 822.95,641.13 826.86,619.03 830.77,597.49 834.68,604.68 838.59,639.86 842.5,682.36 846.41,704.16 850.32,702.93 854.23,687.51 858.14,657.02 862.05,622.02 865.96,591.3 869.87,581.16 873.78,588.49 877.69,616.97 881.61,643.09 885.52,669.42 889.43,674.9 893.34,672.13 897.25,656.15 901.16,646.7 905.07,647.34 908.98,655.93 912.89,655.71 916.8,638.55 920.71,611.52 924.62,599.1 928.53,605.98 932.44,617.76" fill="none" stroke="#FF0000" stroke-width="0.85" stroke-opacity="0.9" stroke-dasharray="1.6,0.9"/>
</g>
<text x="3.5" y="534.9" textLength="110.32" lengthAdjust="spacingAndGlyphs">Sto(5,3,3) 53.6028 57.3808</text>
<text x="1229.3" y="533.8" textLength="14.85" lengthAdjust="spacingAndGlyphs">100</text>
<text x="1229.3" y="571.7" textLength="9.9" lengthAdjust="spacingAndGlyphs">80</text>
<text x="1229.3" y="703.9" textLength="9.9" lengthAdjust="spacingAndGlyphs">20</text>
<text x="1.2" y="755.3" textLength="49.98" lengthAdjust="spacingAndGlyphs">27 Feb 2026</text>
<rect x="63.79" y="744" width="1" height="3" fill="#000"/>
<text x="63.69" y="755.3" textLength="48.83" lengthAdjust="spacingAndGlyphs">4 Mar 15:00</text>
<rect x="126.36" y="744" width="1" height="3" fill="#000"/>
<text x="126.26" y="755.3" textLength="48.83" lengthAdjust="spacingAndGlyphs">9 Mar 06:00</text>
<rect x="188.93" y="744" width="1" height="3" fill="#000"/>
<text x="188.83" y="755.3" textLength="53.24" lengthAdjust="spacingAndGlyphs">11 Mar 22:00</text>
<rect x="251.5" y="744" width="1" height="3" fill="#000"/>
<text x="251.4" y="755.3" textLength="53.92" lengthAdjust="spacingAndGlyphs">16 Mar 14:00</text>
<rect x="314.07" y="744" width="1" height="3" fill="#000"/>
<text x="313.97" y="755.3" textLength="53.92" lengthAdjust="spacingAndGlyphs">19 Mar 06:00</text>
<rect x="376.64" y="744" width="1" height="3" fill="#000"/>
<text x="376.54" y="755.3" textLength="53.92" lengthAdjust="spacingAndGlyphs">23 Mar 22:00</text>
<rect x="439.21" y="744" width="1" height="3" fill="#000"/>
<text x="439.11" y="755.3" textLength="53.92" lengthAdjust="spacingAndGlyphs">26 Mar 14:00</text>
<rect x="501.78" y="744" width="1" height="3" fill="#000"/>
<text x="501.68" y="755.3" textLength="53.92" lengthAdjust="spacingAndGlyphs">31 Mar 06:00</text>
<rect x="564.35" y="744" width="1" height="3" fill="#000"/>
<text x="564.25" y="755.3" textLength="46.8" lengthAdjust="spacingAndGlyphs">2 Apr 22:00</text>
<rect x="626.92" y="744" width="1" height="3" fill="#000"/>
<text x="626.82" y="755.3" textLength="46.8" lengthAdjust="spacingAndGlyphs">8 Apr 14:00</text>
<rect x="689.49" y="744" width="1" height="3" fill="#000"/>
<text x="689.39" y="755.3" textLength="51.89" lengthAdjust="spacingAndGlyphs">13 Apr 06:00</text>
<rect x="752.06" y="744" width="1" height="3" fill="#000"/>
<text x="751.96" y="755.3" textLength="51.89" lengthAdjust="spacingAndGlyphs">15 Apr 22:00</text>
<rect x="814.62" y="744" width="1" height="3" fill="#000"/>
<text x="814.52" y="755.3" textLength="51.89" lengthAdjust="spacingAndGlyphs">20 Apr 14:00</text>
<rect x="877.19" y="744" width="1" height="3" fill="#000"/>
<text x="877.09" y="755.3" textLength="51.89" lengthAdjust="spacingAndGlyphs">23 Apr 06:00</text>
<defs><filter id="sh" x="-20%" y="-60%" width="140%" height="220%"><feGaussianBlur in="SourceAlpha" stdDeviation="1.4"/><feOffset dx="0.6" dy="0.9" result="b"/><feFlood flood-color="#000" flood-opacity="0.9"/><feComposite in2="b" operator="in"/><feMerge><feMergeNode/><feMergeNode in="SourceGraphic"/></feMerge></filter></defs>
<g transform="translate(1183.7,735.3)">
<polygon points="-12.5,0 0,-12.5 0,-8.3 -8.3,0" fill="#CFCFCF"/>
<polygon points="0,-12.5 12.5,0 8.3,0 0,-8.3" fill="#3C3C3C"/>
<polygon points="12.5,0 0,12.5 0,8.3 8.3,0" fill="#5E4A1E"/>
<polygon points="0,12.5 -12.5,0 -8.3,0 0,8.3" fill="#E3CF22"/>
<polygon points="-8.3,0 0,-8.3 0,-6.0 -6.0,0" fill="#2E2E2E"/>
<polygon points="0,-8.3 8.3,0 6.0,0 0,-6.0" fill="#E8E8E8"/>
<polygon points="8.3,0 0,8.3 0,6.0 6.0,0" fill="#C9A92E"/>
<polygon points="0,8.3 -8.3,0 -6.0,0 0,6.0" fill="#3E2E1A"/>
<polygon points="0,-6 6,0 0,6 -6,0" fill="#fff"/>
<polygon points="0,-3.6 3.6,0 0,3.6 -3.6,0" fill="none" stroke="#7DBE3C" stroke-width="1.4"/>
</g>
<g filter="url(#sh)"><text x="1202" y="733.8" style="font-size:9px;font-weight:bold;fill:#fff;stroke:none">SINO</text><text x="1228.3" y="733.8" style="font-size:9px;font-weight:bold;fill:#fff;stroke:none">SOUND</text></g>
<text x="1201.5" y="743.2" filter="url(#sh)" style="font-family:'Noto Sans CJK TC',sans-serif;font-size:8.6px;font-weight:bold;fill:#fff;stroke:none;letter-spacing:7.9px">漢聲集團</text>
<text x="1229.3" y="741.8" textLength="4.95" lengthAdjust="spacingAndGlyphs">0</text>
</svg></body></html>
